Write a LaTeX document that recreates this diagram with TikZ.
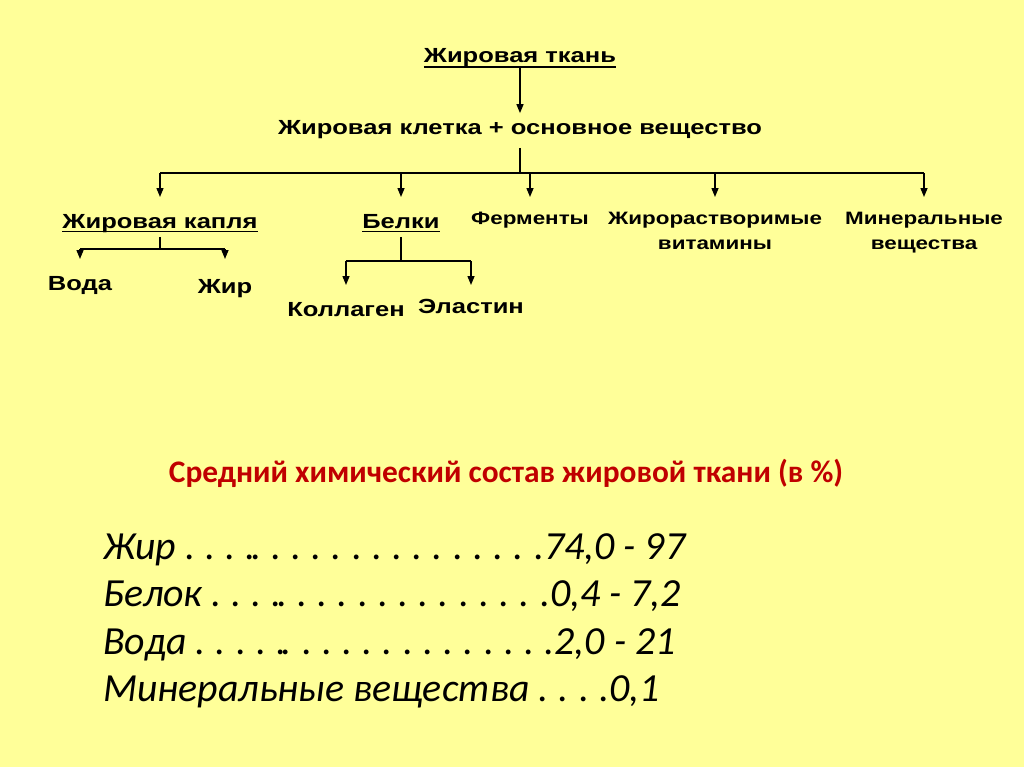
\documentclass[tikz,border=0pt]{standalone}
\usepackage{fontspec}
\setmainfont{Liberation Sans}
\newfontfamily\widesans[FakeStretch=1.25]{Liberation Sans}
\newfontfamily\calib{Carlito}
\usetikzlibrary{arrows.meta}
\definecolor{bgyellow}{HTML}{FFFF99}
\definecolor{titlered}{HTML}{C00000}
\newcommand\twodots{.\kern-0.12em.}
\newcommand\lstfont{\calib\itshape\fontsize{40}{48}\selectfont}
\newcommand\dotrun[1]{{\spaceskip=0.18em\relax #1}}
\begin{document}
\begin{tikzpicture}[x=1bp,y=-1bp,
  lbl/.style={font=\widesans\bfseries\fontsize{#1}{#1}\selectfont, inner sep=0pt, text height=0.72em, text depth=0.22em, anchor=base},
  lbl/.default=20.5,
  sml/.style={font=\widesans\bfseries\fontsize{18}{25}\selectfont, inner sep=0pt, align=center, anchor=north},
  ln/.style={line width=1.4bp},
  arr/.style={line width=1.4bp, -{Triangle[length=9bp,width=7bp]}},
  ul/.style={line width=1.6bp},
  lst/.style={font=\lstfont, anchor=base west, inner sep=0pt}]
\fill[bgyellow] (0,0) rectangle (1024,767);
\useasboundingbox (0,0) rectangle (1024,767);

% top
\node[lbl] (ta) at (520,63) {Жировая ткань};
\draw[ul] ([yshift=-4bp]ta.base west) -- ([yshift=-4bp]ta.base east);
\node[lbl] (tb) at (520,134) {Жировая клетка + основное вещество};
\draw[arr, shorten <=3bp, shorten >=13.5bp] (ta.south) -- (tb.north);

% second level
\node[lbl] (kap) at (160,228) {Жировая капля};
\draw[ul] ([yshift=-3.5bp]kap.base west) -- ([yshift=-3.5bp]kap.base east);
\node[lbl] (bel) at (401,228) {Белки};
\draw[ul] ([yshift=-3.5bp]bel.base west) -- ([yshift=-3.5bp]bel.base east);
\node[sml] (fer) at (530,212) {Ферменты};
\node[sml] (vit) at (715,212) {Жирорастворимые\\витамины};
\node[sml] (min) at (924,212) {Минеральные\\вещества};

\coordinate (bus) at (0,173);
\coordinate (tip) at (0,197);
\draw[ln, shorten <=11.5bp] (tb.south) -- (tb.south |- bus);
\draw[ln] (kap.north |- bus) -- (min.north |- bus);
\foreach \n in {kap,bel,fer,vit,min}
  \draw[arr] (\n.north |- bus) -- (\n.north |- tip);

% fat droplet subtree
\node[lbl] (voda) at (80,290) {Вода};
\node[lbl] (zhir) at (225,293) {Жир};
\coordinate (kbus) at (0,249);
\coordinate (ktip) at (0,259);
\draw[ln, shorten <=6.5bp] (kap.south) -- (kap.south |- kbus);
\draw[ln] (voda.north |- kbus) -- (zhir.north |- kbus);
\draw[arr] (voda.north |- kbus) -- (voda.north |- ktip);
\draw[arr] (zhir.north |- kbus) -- (zhir.north |- ktip);

% proteins subtree
\node[lbl] (kol) at (346,316) {Коллаген};
\node[lbl] (ela) at (471,313) {Эластин};
\coordinate (bbus) at (0,261);
\coordinate (btip) at (0,285);
\draw[ln, shorten <=6.5bp] (bel.south) -- (bel.south |- bbus);
\draw[ln] (kol.north |- bbus) -- (ela.north |- bbus);
\draw[arr] (kol.north |- bbus) -- (kol.north |- btip);
\draw[arr] (ela.north |- bbus) -- (ela.north |- btip);

% composition
\node[font=\calib\bfseries\fontsize{31.5}{36}\selectfont, text=titlered, anchor=base, inner sep=0pt] (ttl) at (506,482) {Средний химический состав жировой ткани (в \%)};
\node[lst] (l1) at (103,559) {Жир \dotrun{. . . \twodots{} . . . . . . . . . . . . . .}74,0 - 97};
\node[lst] (l2) at (103,606) {Белок \dotrun{. . . \twodots{} . . . . . . . . . . . . .}0,4 - 7,2};
\node[lst] (l3) at (103,654) {Вода \dotrun{. . . . \twodots{} . . . . . . . . . . . . .}2,0 - 21};
\node[lst] (l4) at (103,701) {Минеральные вещества \dotrun{. . . .}0,1};
\end{tikzpicture}
\end{document}
